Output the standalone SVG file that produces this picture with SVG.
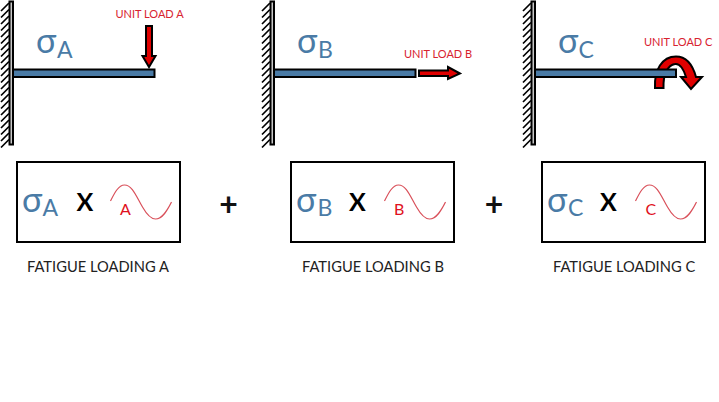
<svg xmlns="http://www.w3.org/2000/svg" width="719" height="402" viewBox="0 0 719 402">
<style>
text{font-family:Lato,"Noto Sans","Liberation Sans",sans-serif}
.sig{fill:#4a7ba6;font-size:34px}
.sub{fill:#4a7ba6;font-size:23px}
.load{fill:#d8222f;font-size:11px}
.cap{fill:#222;font-size:14.7px}
.x{fill:#000;font-size:25px;font-weight:700}
.plus{fill:#111;font-size:32px;font-weight:700;text-anchor:middle}
.wl{fill:#e01020;font-size:16px}
.box{fill:#fff;stroke:#000;stroke-width:2}
.beam{fill:#4a7ba6;stroke:#000;stroke-width:2}
.wall{fill:#c8c8c8;stroke:#000;stroke-width:2}
.hatch{fill:none;stroke:#000;stroke-width:1.7}
.wave{fill:none;stroke:#d9505a;stroke-width:1.2}
.arrow{fill:#e00000;stroke:#000;stroke-width:2;stroke-linejoin:miter}
</style>
<defs>
<g id="wall">
<path class="hatch" d="M9 3l-8 8M9 9.500l-8 8M9 16l-8 8M9 22.500l-8 8M9 29l-8 8M9 35.500l-8 8M9 42l-8 8M9 48.500l-8 8M9 55l-8 8M9 61.500l-8 8M9 68l-8 8M9 74.500l-8 8M9 81l-8 8M9 87.500l-8 8M9 94l-8 8M9 100.500l-8 8M9 107l-8 8M9 113.500l-8 8M9 120l-8 8M9 126.500l-8 8M9 133l-8 8M9 139.500l-8 8"/>
<rect class="wall" x="9.500" y="1.500" width="3.500" height="143"/>
</g>
<path id="w" class="wave" d="M0 16C4 8 8 0 14 0C22 0 26 12 32 22C36 29 40 34 45 34C52 34 57 25 61 17"/>
</defs>
<g id="connectors"/>
<g id="beam-a">
<use href="#wall"/>
<rect class="beam" x="13" y="69.500" width="141.500" height="7.500"/>
<text class="sig" x="36" y="53">σ</text><text class="sub" x="57" y="58">A</text>
<text class="load" x="115.500" y="18">UNIT LOAD A</text>
<path id="load-a" class="arrow" d="M146 26H152V56H155.500L149 67L142.500 56H146Z"/>
</g>
<g id="beam-b">
<use href="#wall" x="261"/>
<rect class="beam" x="274" y="69.500" width="141.500" height="7.500"/>
<text class="sig" x="297" y="53">σ</text><text class="sub" x="318" y="58">B</text>
<text class="load" x="404" y="58">UNIT LOAD B</text>
<path id="load-b" class="arrow" d="M419 70.500H448V67L460 73.500L448 79V76H419Z"/>
</g>
<g id="beam-c">
<use href="#wall" x="522"/>
<path id="load-c" class="arrow" d="M655 88C654 70 662 56.500 676 56.500C688 56.500 693 66 696 77H702L691 89L681 77H686C684 70 680 63 675 64C668 65 663 74 663.500 88Z"/>
<rect class="beam" x="535" y="69.500" width="141" height="7.500"/>
<text class="sig" x="558" y="53">σ</text><text class="sub" x="578.500" y="58">C</text>
<text class="load" x="644" y="46">UNIT LOAD C</text>
</g>
<g id="term-a">
<rect class="box" x="17" y="162" width="163" height="80"/>
<text class="sig" x="22" y="212">σ</text><text class="sub" x="42.500" y="215.500">A</text>
<text class="x" x="76.500" y="211">X</text>
<use href="#w" x="110.500" y="185"/>
<text class="wl" x="120" y="215">A</text>
<text class="cap" x="27" y="271.500">FATIGUE LOADING A</text>
</g>
<text id="plus-1" class="plus" x="228.500" y="216">+</text>
<g id="term-b">
<rect class="box" x="291" y="162" width="163" height="80"/>
<text class="sig" x="296" y="212">σ</text><text class="sub" x="317.500" y="215.500">B</text>
<text class="x" x="349" y="211">X</text>
<use href="#w" x="384.500" y="185"/>
<text class="wl" x="394" y="215">B</text>
<text class="cap" x="302" y="271.500">FATIGUE LOADING B</text>
</g>
<text id="plus-2" class="plus" x="494" y="216">+</text>
<g id="term-c">
<rect class="box" x="542" y="162" width="163" height="80"/>
<text class="sig" x="547" y="212">σ</text><text class="sub" x="568" y="215.500">C</text>
<text class="x" x="600" y="211">X</text>
<use href="#w" x="635.500" y="185"/>
<text class="wl" x="645.500" y="215">C</text>
<text class="cap" x="553" y="271.500">FATIGUE LOADING C</text>
</g>
</svg>
